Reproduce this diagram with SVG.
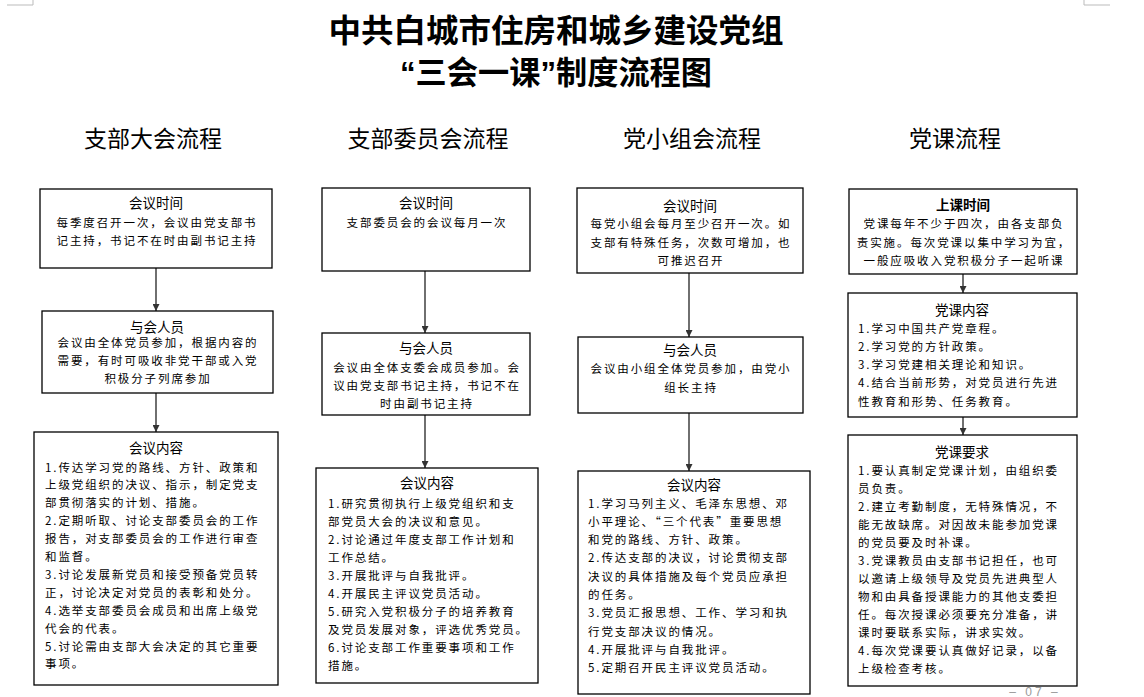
<svg xmlns="http://www.w3.org/2000/svg" width="1144" height="697" viewBox="0 0 1144 697">
<defs>
<style>
.bg{fill:#fff}
.box{fill:#fff;stroke:#000;stroke-width:1.3}
text{font-family:"Noto Sans CJK SC","Liberation Sans",sans-serif;fill:#000}
.t{font-size:11.5px;letter-spacing:1.9px}
.c{text-anchor:middle}
.h{font-size:13.5px;text-anchor:middle}
.hb{font-weight:bold}
.col{font-size:23px;text-anchor:middle}
.title{font-family:"Liberation Sans","Noto Sans CJK SC",sans-serif;font-size:32px;font-weight:bold;text-anchor:middle}
.conn line{stroke:#333;stroke-width:1.4}
.mark{fill:none;stroke:#bbb;stroke-width:1}
.pg{font-family:"Liberation Sans","Noto Sans CJK SC",sans-serif;font-size:12px;fill:#999;text-anchor:middle}
</style>
<marker id="ah" viewBox="0 0 10 10" refX="10" refY="5" markerWidth="7" markerHeight="7" markerUnits="userSpaceOnUse" orient="auto">
<path d="M0,0 L10,5 L0,10 z" fill="#333"/>
</marker>
</defs>
<rect class="bg" x="0" y="0" width="1144" height="697"/>
<path class="mark" d="M7,5 H33 V0 M1084,0 V5 H1110"/>

<g id="title">
<text class="title" x="556" y="42" textLength="455" lengthAdjust="spacingAndGlyphs">中共白城市住房和城乡建设党组</text>
<text class="title" x="556" y="84" textLength="312" lengthAdjust="spacingAndGlyphs">“三会一课”制度流程图</text>
</g>

<g id="headings">
<text class="col" x="153" y="147">支部大会流程</text>
<text class="col" x="428" y="147">支部委员会流程</text>
<text class="col" x="692" y="147">党小组会流程</text>
<text class="col" x="955" y="147">党课流程</text>
</g>

<g class="conn" id="connectors">
<line x1="156" y1="268" x2="156" y2="311" marker-end="url(#ah)"/>
<line x1="156" y1="393" x2="156" y2="432" marker-end="url(#ah)"/>
<line x1="425" y1="271" x2="425" y2="333" marker-end="url(#ah)"/>
<line x1="425" y1="415" x2="425" y2="468" marker-end="url(#ah)"/>
<line x1="689" y1="273" x2="689" y2="337" marker-end="url(#ah)"/>
<line x1="689" y1="413" x2="689" y2="471" marker-end="url(#ah)"/>
<line x1="963" y1="274" x2="963" y2="293" marker-end="url(#ah)"/>
<line x1="963" y1="417" x2="963" y2="435" marker-end="url(#ah)"/>
</g>

<!-- Column 1 -->
<g id="c1-time">
<rect class="box" x="40" y="189" width="232" height="79"/>
<text class="h" x="156" y="208">会议时间</text>
<text class="t c" x="157" y="227">每季度召开一次，会议由党支部书</text>
<text class="t c" x="157" y="245">记主持，书记不在时由副书记主持</text>
</g>
<g id="c1-people">
<rect class="box" x="42" y="311" width="231" height="82"/>
<text class="h" x="157" y="332">与会人员</text>
<text class="t c" x="158" y="347">会议由全体党员参加，根据内容的</text>
<text class="t c" x="158" y="365">需要，有时可吸收非党干部或入党</text>
<text class="t c" x="158" y="383">积极分子列席参加</text>
</g>
<g id="c1-content">
<rect class="box" x="34" y="432" width="244" height="253"/>
<text class="h" x="156" y="453">会议内容</text>
<text class="t" x="45" y="471.5">1.传达学习党的路线、方针、政策和</text>
<text class="t" x="45" y="489.4">上级党组织的决议、指示，制定党支</text>
<text class="t" x="45" y="507.3">部贯彻落实的计划、措施。</text>
<text class="t" x="45" y="525.2">2.定期听取、讨论支部委员会的工作</text>
<text class="t" x="45" y="543.1">报告，对支部委员会的工作进行审查</text>
<text class="t" x="45" y="561">和监督。</text>
<text class="t" x="45" y="578.9">3.讨论发展新党员和接受预备党员转</text>
<text class="t" x="45" y="596.8">正，讨论决定对党员的表彰和处分。</text>
<text class="t" x="45" y="614.7">4.选举支部委员会成员和出席上级党</text>
<text class="t" x="45" y="632.6">代会的代表。</text>
<text class="t" x="45" y="650.5">5.讨论需由支部大会决定的其它重要</text>
<text class="t" x="45" y="668.4">事项。</text>
</g>

<!-- Column 2 -->
<g id="c2-time">
<rect class="box" x="322" y="188" width="208" height="83"/>
<text class="h" x="426" y="208">会议时间</text>
<text class="t c" x="427" y="227">支部委员会的会议每月一次</text>
</g>
<g id="c2-people">
<rect class="box" x="322" y="333" width="208" height="82"/>
<text class="h" x="426" y="353">与会人员</text>
<text class="t c" x="427" y="372">会议由全体支委会成员参加。会</text>
<text class="t c" x="427" y="390">议由党支部书记主持，书记不在</text>
<text class="t c" x="427" y="408">时由副书记主持</text>
</g>
<g id="c2-content">
<rect class="box" x="316" y="468" width="222" height="215"/>
<text class="h" x="427" y="488">会议内容</text>
<text class="t" x="328" y="507.5">1.研究贯彻执行上级党组织和支</text>
<text class="t" x="328" y="525.6">部党员大会的决议和意见。</text>
<text class="t" x="328" y="543.7">2.讨论通过年度支部工作计划和</text>
<text class="t" x="328" y="561.8">工作总结。</text>
<text class="t" x="328" y="579.9">3.开展批评与自我批评。</text>
<text class="t" x="328" y="598">4.开展民主评议党员活动。</text>
<text class="t" x="328" y="616.1">5.研究入党积极分子的培养教育</text>
<text class="t" x="328" y="634.2">及党员发展对象，评选优秀党员。</text>
<text class="t" x="328" y="652.3">6.讨论支部工作重要事项和工作</text>
<text class="t" x="328" y="670.4">措施。</text>
</g>

<!-- Column 3 -->
<g id="c3-time">
<rect class="box" x="577" y="188" width="226" height="85"/>
<text class="h" x="690" y="211">会议时间</text>
<text class="t c" x="691" y="228">每党小组会每月至少召开一次。如</text>
<text class="t c" x="691" y="246.5">支部有特殊任务，次数可增加，也</text>
<text class="t c" x="691" y="265">可推迟召开</text>
</g>
<g id="c3-people">
<rect class="box" x="578" y="337" width="225" height="76"/>
<text class="h" x="690" y="355">与会人员</text>
<text class="t c" x="691" y="373">会议由小组全体党员参加，由党小</text>
<text class="t c" x="691" y="392">组长主持</text>
</g>
<g id="c3-content">
<rect class="box" x="578" y="471" width="232" height="223"/>
<text class="h" x="694" y="490">会议内容</text>
<text class="t" x="588" y="507.5">1.学习马列主义、毛泽东思想、邓</text>
<text class="t" x="588" y="525.8">小平理论、“三个代表”重要思想</text>
<text class="t" x="588" y="544.1">和党的路线、方针、政策。</text>
<text class="t" x="588" y="562.4">2.传达支部的决议，讨论贯彻支部</text>
<text class="t" x="588" y="580.7">决议的具体措施及每个党员应承担</text>
<text class="t" x="588" y="599">的任务。</text>
<text class="t" x="588" y="617.3">3.党员汇报思想、工作、学习和执</text>
<text class="t" x="588" y="635.6">行党支部决议的情况。</text>
<text class="t" x="588" y="653.9">4.开展批评与自我批评。</text>
<text class="t" x="588" y="672.2">5.定期召开民主评议党员活动。</text>
</g>

<!-- Column 4 -->
<g id="c4-time">
<rect class="box" x="849" y="189" width="228" height="85"/>
<text class="h hb" x="963" y="210">上课时间</text>
<text class="t c" x="964" y="228">党课每年不少于四次，由各支部负</text>
<text class="t c" x="964" y="246.5">责实施。每次党课以集中学习为宜，</text>
<text class="t c" x="964" y="265">一般应吸收入党积极分子一起听课</text>
</g>
<g id="c4-content">
<rect class="box" x="848" y="293" width="229" height="124"/>
<text class="h" x="962" y="315">党课内容</text>
<text class="t" x="858" y="332.5">1.学习中国共产党章程。</text>
<text class="t" x="858" y="350.8">2.学习党的方针政策。</text>
<text class="t" x="858" y="369.1">3.学习党建相关理论和知识。</text>
<text class="t" x="858" y="387.4">4.结合当前形势，对党员进行先进</text>
<text class="t" x="858" y="405.7">性教育和形势、任务教育。</text>
</g>
<g id="c4-req">
<rect class="box" x="848" y="435" width="229" height="251"/>
<text class="h" x="962" y="457">党课要求</text>
<text class="t" x="858" y="474.5">1.要认真制定党课计划，由组织委</text>
<text class="t" x="858" y="492.5">员负责。</text>
<text class="t" x="858" y="510.5">2.建立考勤制度，无特殊情况，不</text>
<text class="t" x="858" y="528.5">能无故缺席。对因故未能参加党课</text>
<text class="t" x="858" y="546.5">的党员要及时补课。</text>
<text class="t" x="858" y="564.5">3.党课教员由支部书记担任，也可</text>
<text class="t" x="858" y="582.5">以邀请上级领导及党员先进典型人</text>
<text class="t" x="858" y="600.5">物和由具备授课能力的其他支委担</text>
<text class="t" x="858" y="618.5">任。每次授课必须要充分准备，讲</text>
<text class="t" x="858" y="636.5">课时要联系实际，讲求实效。</text>
<text class="t" x="858" y="654.5">4.每次党课要认真做好记录，以备</text>
<text class="t" x="858" y="672.5">上级检查考核。</text>
</g>

<g id="page-number">
<text class="pg" x="1035" y="696" letter-spacing="3">– 07 –</text>
</g>
</svg>
